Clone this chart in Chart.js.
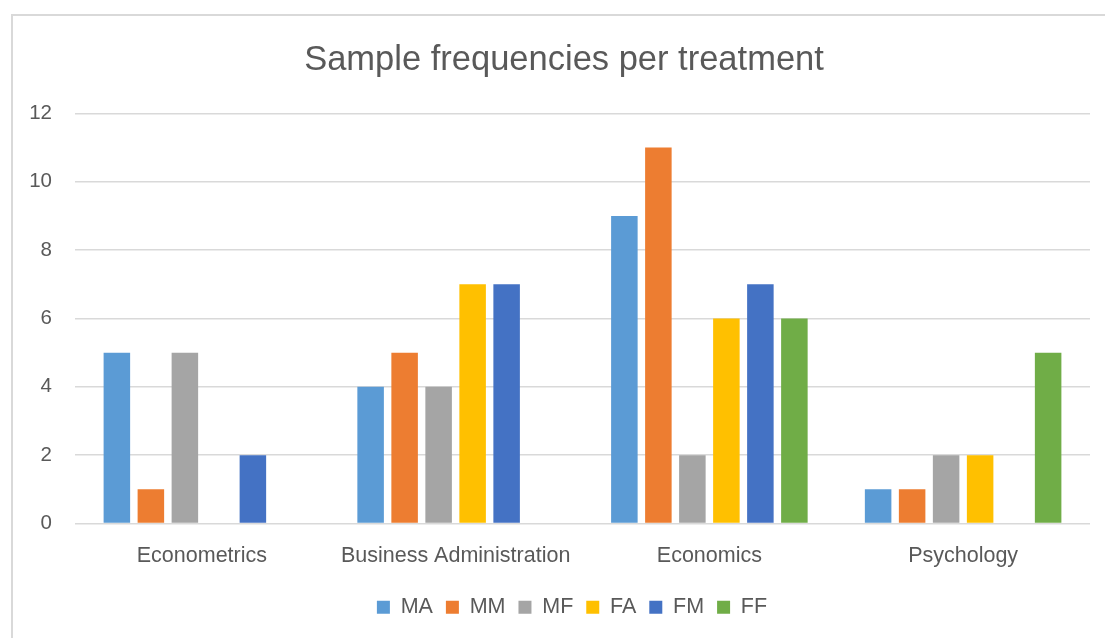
<!DOCTYPE html>
<html>
<head>
<meta charset="utf-8">
<script src="https://cdn.jsdelivr.net/npm/chart.js@4.4.1/dist/chart.umd.min.js"></script>
<style>
    html, body { margin: 0; padding: 0; background: #fff; }
    #wrap { position: relative; width: 1105px; height: 638px; overflow: hidden; }
    #frame { position: absolute; left: 11px; top: 14px; width: 1200px; height: 700px;
             border-left: 2px solid #d9d9d9; border-top: 2px solid #d9d9d9; }
    #c { position: absolute; left: 0; top: 0; }
</style>
</head>
<body>
<div id="wrap">
    <div id="frame"></div>
    <canvas id="c" width="1105" height="638"></canvas>
</div>
<script>
const categories = ['Econometrics', 'Business Administration', 'Economics', 'Psychology'];
const seriesNames = ['MA', 'MM', 'MF', 'FA', 'FM', 'FF'];
const MA = [5, 4, 9, 1];
const MM = [1, 5, 11, 1];
const MF = [5, 4, 2, 2];
const FA = [0, 7, 6, 2];
const FM = [2, 7, 7, 0];
const FF = [0, 0, 6, 5];
const yTicks = [0, 2, 4, 6, 8, 10, 12];

const colors = ['#5B9BD5', '#ED7D31', '#A5A5A5', '#FFC000', '#4472C4', '#70AD47'];
const values = [MA, MM, MF, FA, FM, FF];
const FONT = "'Liberation Sans', 'Open Sans', sans-serif";
const TEXT = '#595959';

const datasets = seriesNames.map((name, i) => ({
    label: name,
    data: values[i],
    backgroundColor: colors[i],
    borderWidth: 0,
    barPercentage: 0.78,
    categoryPercentage: 0.804
}));

// the original centres title and legend a bit right of the canvas middle
const nudgeBlocks = {
    id: 'nudgeBlocks',
    afterLayout(chart) {
        if (chart.titleBlock) { chart.titleBlock.left += 19; chart.titleBlock.right += 19; }
        if (chart.legend) { chart.legend.left += 27; chart.legend.right += 27; }
    }
};

new Chart(document.getElementById('c'), {
    type: 'bar',
    data: { labels: categories, datasets },
    plugins: [nudgeBlocks],
    options: {
        responsive: false,
        animation: false,
        layout: { padding: { left: 0, right: 15, top: 0, bottom: 10 } },
        plugins: {
            title: {
                display: true,
                text: 'Sample frequencies per treatment',
                color: TEXT,
                font: { family: FONT, size: 34.5, weight: 'normal' },
                padding: { top: 40, bottom: 32 }
            },
            legend: {
                position: 'bottom',
                labels: {
                    color: TEXT,
                    font: { family: FONT, size: 21.5 },
                    boxWidth: 13,
                    boxHeight: 13,
                    padding: 13
                }
            },
            tooltip: { enabled: false }
        },
        scales: {
            x: {
                grid: { display: false, drawTicks: false },
                border: { display: false },
                afterFit: s => { s.height = 60; },
                ticks: {
                    color: TEXT,
                    font: { family: FONT, size: 21.5 },
                    padding: 20,
                    maxRotation: 0
                }
            },
            y: {
                min: 0,
                max: 12,
                afterBuildTicks: s => { s.ticks = yTicks.map(v => ({ value: v })); },
                afterFit: s => { s.width = 75; },
                grid: { color: '#d9d9d9', lineWidth: 1.5, drawTicks: false },
                border: { display: false },
                ticks: {
                    color: TEXT,
                    font: { family: FONT, size: 20.5 },
                    padding: 23
                }
            }
        }
    }
});
</script>
</body>
</html>
